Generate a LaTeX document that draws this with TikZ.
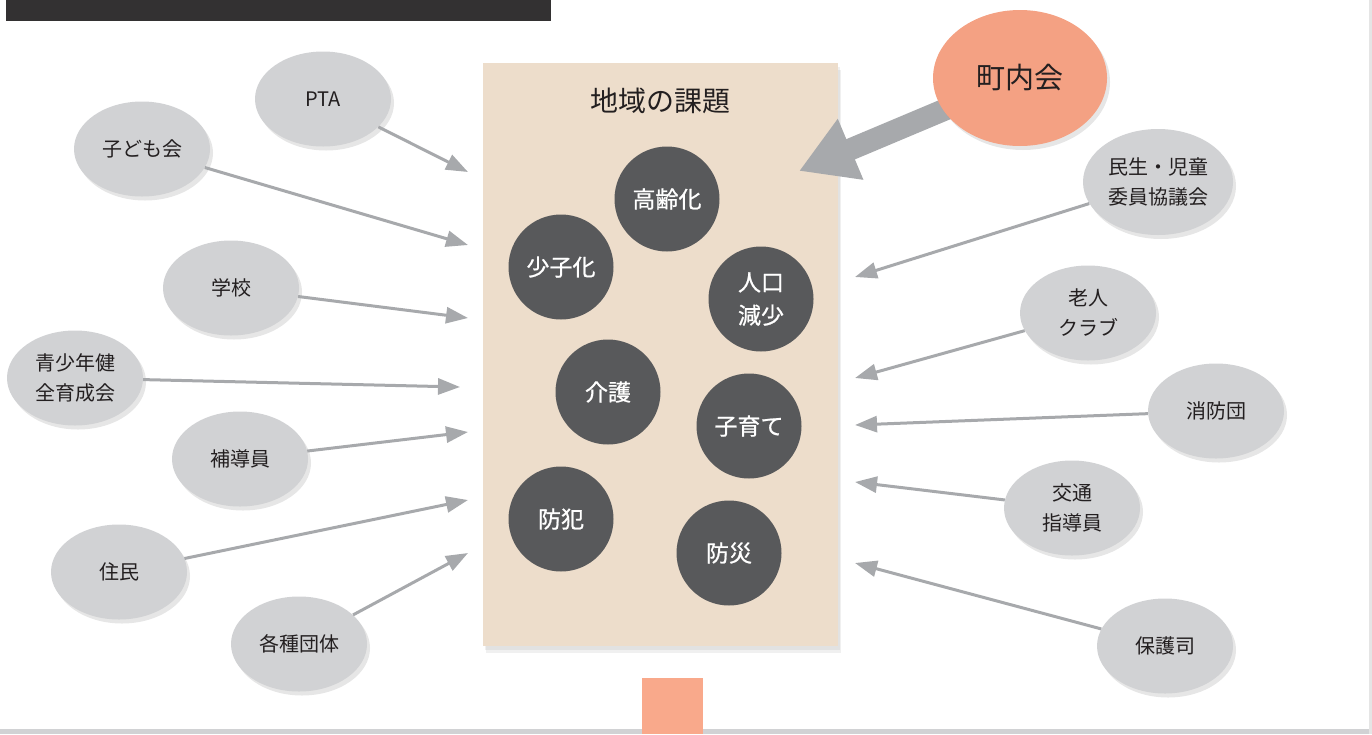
\documentclass[tikz,border=0pt]{standalone}
\usepackage{fontspec}
\setmainfont{Noto Sans CJK JP}[BoldFont=Noto Sans CJK JP, BoldFeatures={FakeBold=0.8}]
\usepackage{tikz}
\usetikzlibrary{arrows.meta, positioning, shapes.geometric, shadows}
\definecolor{panelbg}{RGB}{237,221,203}
\definecolor{issuebg}{RGB}{88,89,91}
\definecolor{groupbg}{RGB}{209,210,212}
\definecolor{linkgray}{RGB}{167,169,172}
\definecolor{salmon}{RGB}{244,161,131}
\definecolor{stembg}{RGB}{249,169,139}
\definecolor{barbg}{RGB}{51,49,50}
\definecolor{inkc}{RGB}{35,31,32}

\begin{document}
\begin{tikzpicture}[
    x=1pt, y=-1pt, % 1px = 1pt, y axis downwards
    panel/.style={
        rectangle,
        fill=panelbg,
        minimum width=355pt,
        minimum height=583pt,
        inner sep=0pt,
        drop shadow={shadow xshift=3pt, shadow yshift=-7pt, opacity=0.12},
        drop shadow={shadow xshift=2pt, shadow yshift=-4pt, opacity=0.12}
    },
    issue/.style={
        circle,
        fill=issuebg,
        text=white,
        minimum size=105pt,
        inner sep=0pt,
        align=center,
        font=\fontsize{23}{33}\selectfont\bfseries
    },
    group/.style={
        ellipse,
        fill=groupbg,
        text=inkc,
        minimum width=136pt,
        minimum height=95pt,
        inner sep=0pt,
        align=center,
        font=\fontsize{20}{30}\selectfont,
        drop shadow={shadow xshift=3pt, shadow yshift=-4pt, opacity=0.2}
    },
    link/.style={line width=3pt, linkgray, -{Triangle[length=22pt, width=16pt]}},
    bigarrow/.style={line width=22pt, linkgray, -{Triangle[length=56pt, width=62pt]}}
]
\useasboundingbox (0,0) rectangle (1372,734);

% ========== 枠 ==========
\fill[barbg] (6,0) rectangle (551,21);
\fill[groupbg] (0,729) rectangle (1372,734);
\fill[black!10] (1369,0) rectangle (1372,734);
\node[rectangle, fill=stembg, minimum width=61pt, minimum height=56pt, inner sep=0pt, anchor=south] (stem) at (672.5,734) {};

% ========== 地域の課題 ==========
\node[panel] (panel) at (660.5,354) {};
\node[below=22pt of panel.north, text=inkc, font=\fontsize{28}{34}\selectfont] (title) {地域の課題};

\node[issue] (aging)    at (667,199) {高齢化};
\node[issue] (fewkids)  at (561,267) {少子化};
\node[issue] (decline)  at (761,299) {人口\\減少};
\node[issue] (care)     at (608,392) {介護};
\node[issue] (raising)  at (749,426) {子育て};
\node[issue] (crime)    at (561,519) {防犯};
\node[issue] (disaster) at (729,553) {防災};

% ========== 町内会 ==========
\coordinate (chonaiC) at (1020,78);
\coordinate (chonaiTip) at (799,171);
\draw[bigarrow] (chonaiC) -- (chonaiTip);
\node[ellipse, fill=salmon, text=inkc, minimum width=174pt, minimum height=136pt, inner sep=0pt,
      font=\fontsize{29}{34}\selectfont,
      drop shadow={shadow xshift=3pt, shadow yshift=-4pt, opacity=0.2}] (chonai) at (chonaiC) {町内会};

% ========== 左側の団体 ==========
\node[group] (pta)     at (323,99)  {PTA};
\node[group] (kodomo)  at (142,149) {子ども会};
\node[group] (school)  at (231,288) {学校};
\node[group] (seishon) at (75,378)  {青少年健\\全育成会};
\node[group] (hodo)    at (240,459) {補導員};
\node[group] (jumin)   at (119,572) {住民};
\node[group] (kakushu) at (299,644) {各種団体};

% ========== 右側の団体 ==========
\node[group, minimum width=150pt, minimum height=106pt] (minsei) at (1158,182) {民生・児童\\委員協議会};
\node[group] (rojin)   at (1088,313) {老人\\クラブ};
\node[group] (shobo)   at (1216,411) {消防団};
\node[group] (kotsu)   at (1072,508) {交通\\指導員};
\node[group] (hogoshi) at (1165,646) {保護司};

% ========== 矢印の先 ==========
\coordinate (tPta)     at (468,172);
\coordinate (tKodomo)  at (468,245);
\coordinate (tSchool)  at (468,318);
\coordinate (tSeishon) at (460,387);
\coordinate (tHodo)    at (468,432);
\coordinate (tJumin)   at (468,500);
\coordinate (tKakushu) at (468,553);
\coordinate (tMinsei)  at (855,277);
\coordinate (tRojin)   at (855,378);
\coordinate (tShobo)   at (855,425);
\coordinate (tKotsu)   at (855,482);
\coordinate (tHogoshi) at (855,563);

% ========== 連接線 ==========
\draw[link] (pta) -- (tPta);
\draw[link] (kodomo) -- (tKodomo);
\draw[link] (school) -- (tSchool);
\draw[link] (seishon) -- (tSeishon);
\draw[link] (hodo) -- (tHodo);
\draw[link] (jumin) -- (tJumin);
\draw[link] (kakushu) -- (tKakushu);
\draw[link] (minsei) -- (tMinsei);
\draw[link] (rojin) -- (tRojin);
\draw[link] (shobo) -- (tShobo);
\draw[link] (kotsu) -- (tKotsu);
\draw[link] (hogoshi) -- (tHogoshi);

\end{tikzpicture}
\end{document}
